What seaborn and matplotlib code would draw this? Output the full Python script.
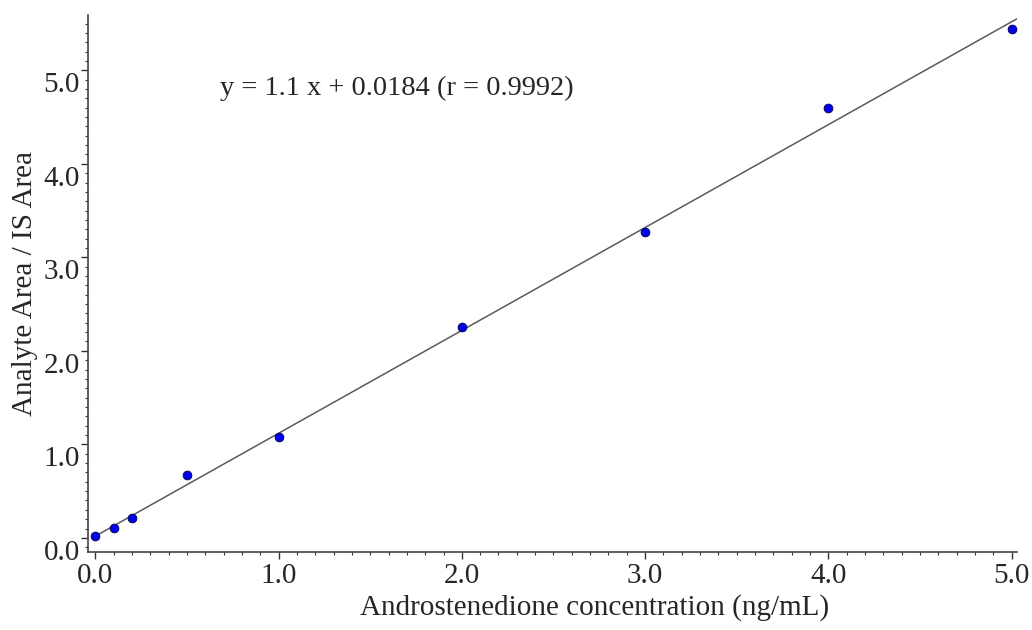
"""Calibration curve for androstenedione (analyte/IS area ratio)."""

import matplotlib
matplotlib.use("Agg")
import matplotlib.pyplot as plt
import numpy as np
import pandas as pd
import seaborn as sns
from matplotlib.ticker import MultipleLocator
from matplotlib.transforms import ScaledTranslation

conc = [0.0, 0.1, 0.2, 0.5, 1.0, 2.0, 3.0, 4.0, 5.0]
area_ratio = [0.02, 0.11, 0.21, 0.67, 1.08, 2.26, 3.27, 4.60, 5.44]
slope, intercept = 1.1, 0.0184
fit_x = [0.0, 5.03]
eq_label = "y = 1.1 x + 0.0184 (r = 0.9992)"
x_ticks = [0.0, 1.0, 2.0, 3.0, 4.0, 5.0]
y_ticks = [0.0, 1.0, 2.0, 3.0, 4.0, 5.0]

sns.set_theme(style="ticks")
plt.rcParams["font.family"] = ["Liberation Serif", "DejaVu Serif"]

df = pd.DataFrame({"conc": conc, "ratio": area_ratio})
fit = pd.DataFrame({"x": fit_x, "y": slope * np.array(fit_x) + intercept})

fig = plt.figure(figsize=(10.32, 6.30), dpi=100)
ax = fig.add_axes([0.0853, 0.124, 0.9002, 0.852])

sns.lineplot(data=fit, x="x", y="y", color="#5a5a5a", linewidth=1.1, ax=ax)
sns.scatterplot(data=df, x="conc", y="ratio", color="#0000ee", edgecolor="#000044",
                linewidth=0.6, s=40, zorder=3, ax=ax)

ax.set_xlim(-0.04, 5.03)
ax.set_ylim(-0.15, 5.59)
ax.set_xticks(x_ticks)
ax.set_yticks(y_ticks)
ax.set_xticklabels([f"{v:.1f}" for v in x_ticks])
ax.set_yticklabels([f"{v:.1f}" for v in y_ticks])
ax.xaxis.set_minor_locator(MultipleLocator(0.1))
ax.yaxis.set_minor_locator(MultipleLocator(0.1))
ax.tick_params(which="major", length=5, width=1, color="#333333", labelsize=21)
ax.tick_params(axis="x", which="major", pad=3)
ax.tick_params(axis="y", which="major", pad=1)
ax.tick_params(which="minor", length=2.5, width=0.8, color="#333333")
# reference puts the y tick labels a little below their ticks
shift = ScaledTranslation(0, -0.12, fig.dpi_scale_trans)
for lab in ax.get_yticklabels():
    lab.set_transform(lab.get_transform() + shift)
for side in ["top", "right"]:
    ax.spines[side].set_visible(False)
for side in ["left", "bottom"]:
    ax.spines[side].set_color("#444444")
    ax.spines[side].set_linewidth(1.2)

ax.set_xlabel("Androstenedione concentration (ng/mL)", fontsize=21)
ax.set_ylabel("Analyte Area / IS Area", fontsize=21, labelpad=4)
ax.xaxis.set_label_coords(0.545, -0.079)
ax.text(0.68, 4.81, eq_label, fontsize=20.5, va="center", ha="left")

fig.savefig("out.png", dpi=100)
